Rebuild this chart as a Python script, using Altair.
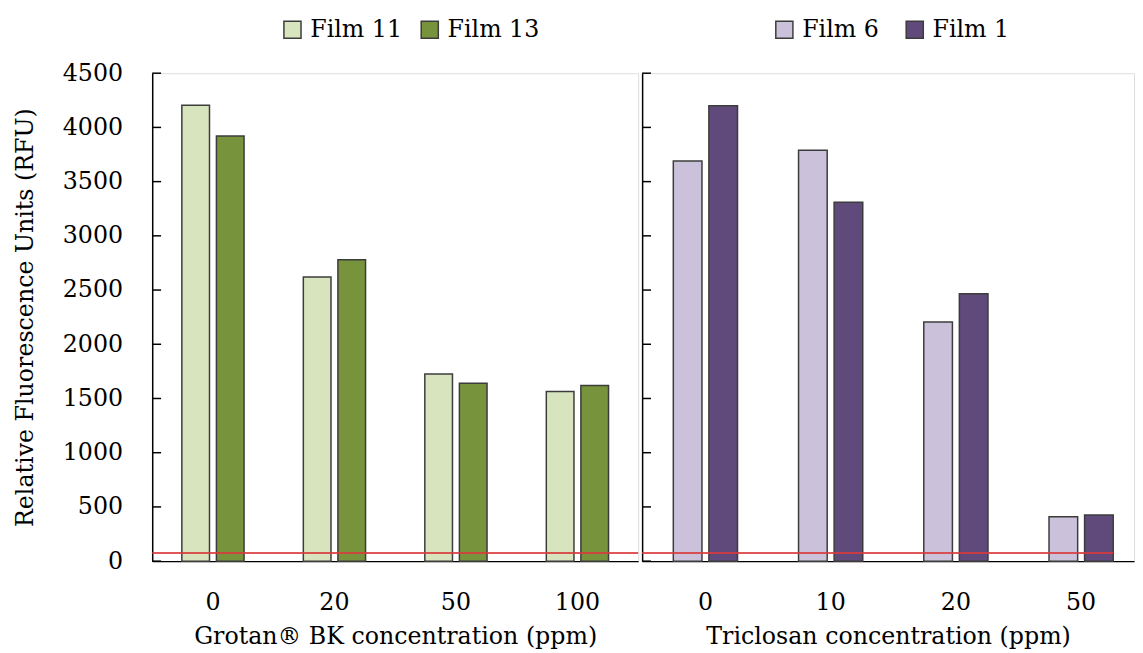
import altair as alt
import pandas as pd

# ---- data ----
grotan_conc = ["0", "20", "50", "100"]
film11 = [4205, 2620, 1725, 1565]
film13 = [3920, 2780, 1640, 1620]

triclosan_conc = ["0", "10", "20", "50"]
film6 = [3690, 3790, 2205, 410]
film1 = [4200, 3310, 2465, 425]

threshold = [75]
y_ticks = [0, 500, 1000, 1500, 2000, 2500, 3000, 3500, 4000, 4500]

green_names = ["Film 11", "Film 13"]
green_colors = ["#D7E4BD", "#77933C"]
purple_names = ["Film 6", "Film 1"]
purple_colors = ["#CCC1DA", "#604A7B"]

FONT = "DejaVu Serif"
FS = 24
STROKE = "#3c3c3c"
H = 494


def panel(conc, va, vb, names, colors, width, xscale, xtitle, show_y, rule_x2,
          legend_x, col_pad, bar_w, half):
    y_axis = alt.Axis(
        values=y_ticks, format="d", ticks=False, tickSize=0, grid=False,
        domainColor="black", domainWidth=1.5,
        labels=show_y, labelFont=FONT, labelFontSize=FS, labelColor="black",
        labelPadding=30,
        title="Relative Fluorescence Units (RFU)" if show_y else None,
        titleFont=FONT, titleFontSize=FS, titleFontWeight="normal",
        titleColor="black", titlePadding=25,
    )
    x_enc = alt.X("conc:N", sort=conc, scale=xscale,
                  axis=alt.Axis(title=xtitle, labelAngle=0, ticks=False, tickSize=0,
                                domainColor="black", domainWidth=1.5,
                                labelFont=FONT, labelFontSize=FS, labelColor="black",
                                labelPadding=30,
                                titleFont=FONT, titleFontSize=FS,
                                titleFontWeight="normal", titleColor="black",
                                titlePadding=10))
    y_enc = alt.Y("value:Q", scale=alt.Scale(domain=[0, 4500], nice=False), axis=y_axis)
    c_enc = alt.Color("film:N", sort=names,
                      scale=alt.Scale(domain=names, range=colors),
                      legend=alt.Legend(orient="none", legendX=legend_x, legendY=-56,
                                        direction="horizontal", title=None,
                                        symbolType="square", symbolSize=300,
                                        symbolStrokeColor=STROKE,
                                        symbolStrokeWidth=1.5,
                                        labelFont=FONT, labelFontSize=FS,
                                        labelColor="black", labelOffset=6,
                                        columnPadding=col_pad))
    df_a = pd.DataFrame({"conc": conc, "value": va, "film": names[0]})
    df_b = pd.DataFrame({"conc": conc, "value": vb, "film": names[1]})
    bars_a = alt.Chart(df_a).mark_bar(
        stroke=STROKE, strokeWidth=1.5, width=bar_w, xOffset=-half
    ).encode(x=x_enc, y=y_enc, color=c_enc)
    bars_b = alt.Chart(df_b).mark_bar(
        stroke=STROKE, strokeWidth=1.5, width=bar_w, xOffset=half
    ).encode(x=x_enc, y=y_enc, color=c_enc)
    red = alt.Chart(pd.DataFrame({"v": threshold})).mark_rule(
        color="#d9393b", strokeWidth=1.8, opacity=0.85
    ).encode(y="v:Q", x=alt.value(0), x2=alt.value(rule_x2))
    ticks = alt.Chart(pd.DataFrame({"t": y_ticks})).mark_rule(
        color="black", strokeWidth=1.5
    ).encode(y="t:Q", x=alt.value(0), x2=alt.value(9))
    return alt.layer(bars_a, bars_b, red, ticks).properties(width=width, height=H)


left = panel(
    grotan_conc, film11, film13, green_names, green_colors, 492,
    alt.Scale(paddingInner=0.48, paddingOuter=0.24),
    "Grotan\u00ae BK concentration (ppm)", True, 492, 130, 16, 28, 17.5,
)
right = panel(
    triclosan_conc, film6, film1, purple_names, purple_colors, 498,
    alt.Scale(paddingInner=0.4874, paddingOuter=0.2076, align=0.6),
    "Triclosan concentration (ppm)", False, 477, 132, 24, 29, 18,
)

chart = alt.hconcat(left, right, spacing=0).resolve_scale(
    color="independent", x="independent"
).configure_view(stroke=None).configure(
    background="white", font=FONT,
    padding={"left": 5, "top": 5, "right": 0, "bottom": 0}
).configure_axis(labelFont=FONT, titleFont=FONT).configure_legend(labelFont=FONT)

chart.save("out.html", embed_options={"renderer": "svg", "actions": False})
